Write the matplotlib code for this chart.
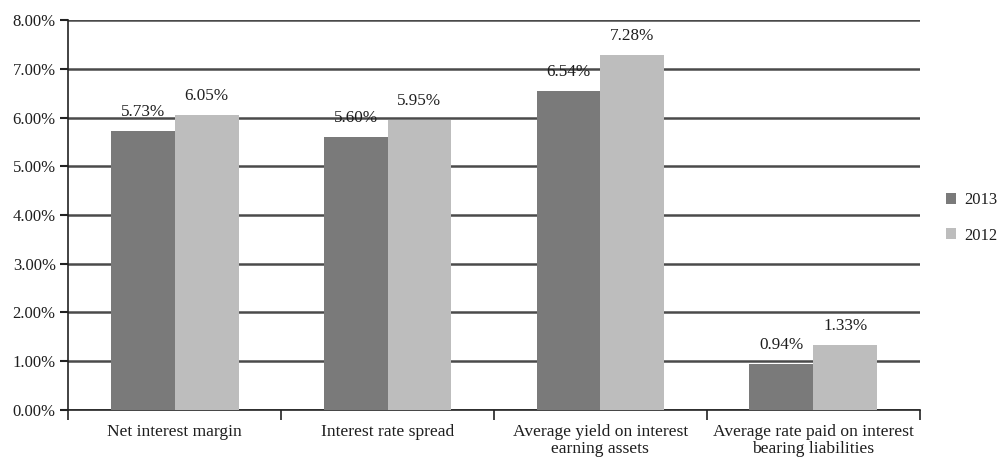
import matplotlib
matplotlib.use("Agg")
import matplotlib.pyplot as plt
import numpy as np
from matplotlib.ticker import FuncFormatter, MultipleLocator

plt.rcParams['font.family'] = ['Liberation Serif', 'DejaVu Serif']

categories = [
    "Net interest margin",
    "Interest rate spread",
    "Average yield on interest\nearning assets",
    "Average rate paid on interest\nbearing liabilities",
]
series_names = ["2013", "2012"]
values_2013 = [5.73, 5.60, 6.54, 0.94]
values_2012 = [6.05, 5.95, 7.28, 1.33]
colors = ["#7a7a7a", "#bdbdbd"]
text_color = "#1e1e1e"

fig = plt.figure(figsize=(10.03, 4.59), dpi=100)
ax = fig.add_axes([0.068, 0.107, 0.849, 0.849])

x = np.arange(len(categories))
w = 0.3
for i, (vals, name) in enumerate(zip([values_2013, values_2012], series_names)):
    b = ax.bar(x + (i - 0.5) * w, vals, width=w, color=colors[i], label=name, zorder=3)
    for rect, v in zip(b, vals):
        ax.annotate(f"{v:.2f}%", (rect.get_x() + rect.get_width() / 2, v),
                    xytext=(0, 8), textcoords="offset points",
                    ha="center", va="bottom", fontsize=12.3, color=text_color, zorder=4)

ax.set_xlim(-0.5, len(categories) - 0.5)
ax.set_ylim(0, 8)
ax.yaxis.set_major_locator(MultipleLocator(1))
ax.yaxis.set_major_formatter(FuncFormatter(lambda v, p: f"{v:.2f}%"))
ax.grid(axis="y", color="#4a4a4a", linewidth=1.8, zorder=0)
ax.set_axisbelow(True)

# category boundaries carry the tick marks, labels sit at centres
ax.set_xticks(np.arange(len(categories) + 1) - 0.5)
ax.set_xticklabels([])
ax.set_xticks(x, minor=True)
ax.set_xticklabels(categories, minor=True, fontsize=12.6, color=text_color, linespacing=1.1)
ax.tick_params(axis="x", which="major", length=7, width=1.2, color="#222222", direction="out")
ax.tick_params(axis="x", which="minor", length=0, pad=10)
ax.tick_params(axis="y", length=6, width=1.5, color="#222222", labelsize=12,
               labelcolor=text_color, pad=3)

for s in ["top", "right"]:
    ax.spines[s].set_visible(False)
for s in ["left", "bottom"]:
    ax.spines[s].set_color("#222222")
    ax.spines[s].set_linewidth(1.2)

fig.legend(loc="center left", bbox_to_anchor=(0.943, 0.525), frameon=False,
           fontsize=12, handlelength=0.6, handleheight=0.6, handletextpad=0.5,
           labelspacing=1.15, labelcolor=text_color, borderpad=0, borderaxespad=0)

fig.savefig("out.png", dpi=100)
